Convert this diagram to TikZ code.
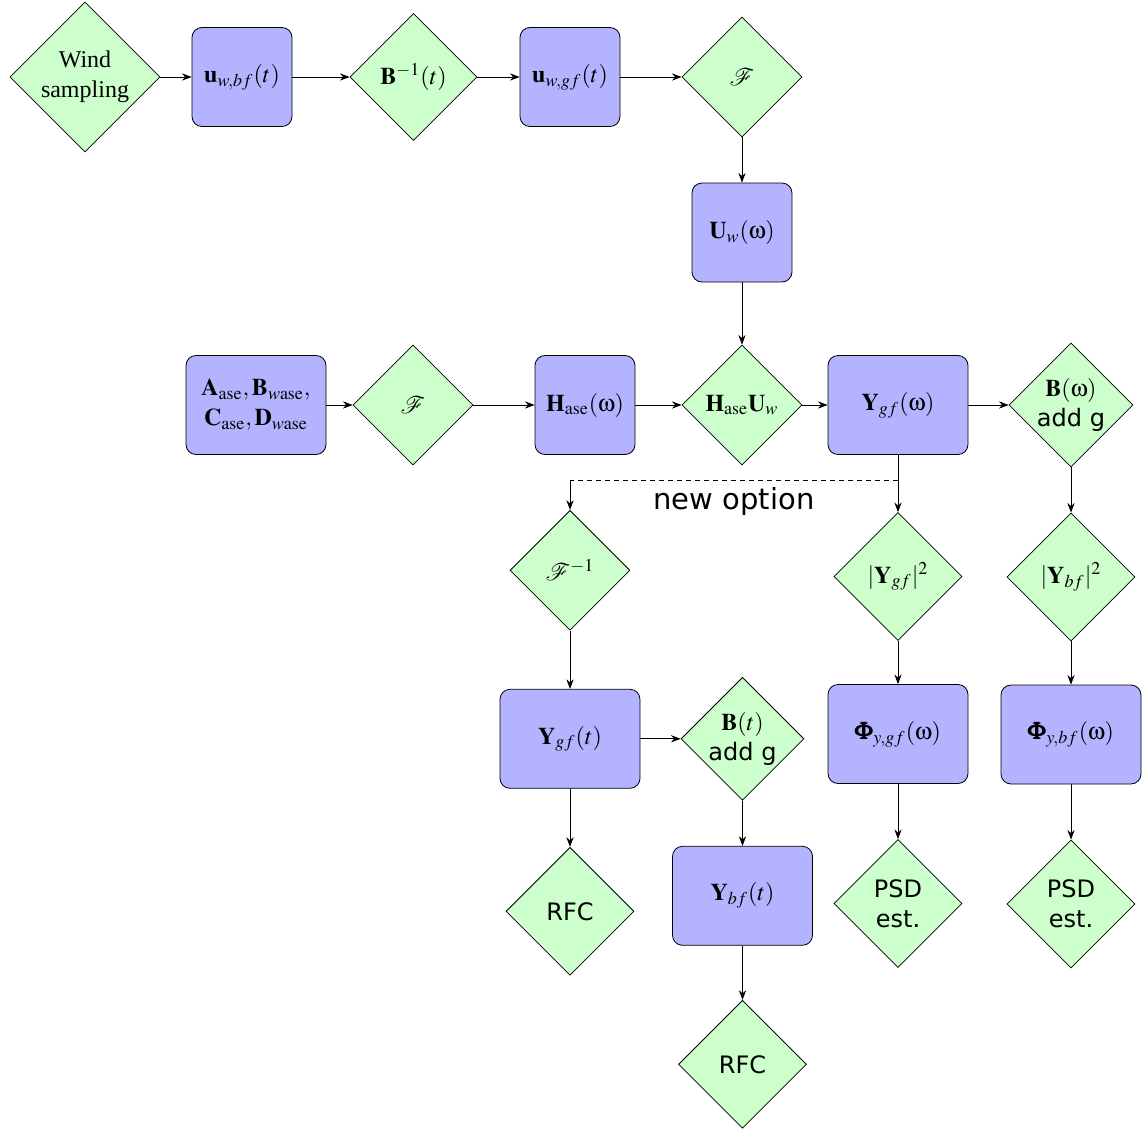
\documentclass[tikz,border=0pt]{standalone}
\usepackage{amsmath}
\usepackage{mathptmx}
\usepackage[Symbol]{upgreek}
\usepackage[no-math]{fontspec}
\setmainfont{Liberation Serif}
\newfontfamily\dejavu{DejaVu Sans}
\usetikzlibrary{arrows.meta,positioning,shapes.geometric}
\definecolor{blockFill}{RGB}{179,179,255}
\definecolor{opFill}{RGB}{204,255,204}
\tikzset{
  block/.style={rectangle, draw, fill=blockFill, rounded corners=5pt,
    minimum width=50pt, minimum height=49.5pt, align=center, inner sep=2pt,
    font=\fontsize{12}{15}\selectfont},
  wideblock/.style={block, minimum width=70pt},
  decision/.style={diamond, draw, fill=opFill, minimum size=60pt, inner sep=0pt,
    align=center, font=\fontsize{12}{15}\selectfont},
  sansText/.style={font=\dejavu\fontsize{12}{15}\selectfont},
  optLabel/.style={font=\dejavu\fontsize{14.5}{17}\selectfont},
  flow/.style={-{Stealth}},
  optFlow/.style={dash pattern=on 2.5pt off 2pt},
}
\newcommand{\addg}{{\dejavu\fontsize{12}{14}\selectfont add g}}

\begin{document}
\begin{tikzpicture}
  \useasboundingbox (-42.5pt,38.5pt) rectangle (531pt,-526.5pt);
  % time domain wind input
  \node[decision, minimum size=75pt] (wind) {Wind\\sampling};
  \node[block, right=15.6pt of wind] (ubf) {$\mathbf{u}_{w,bf}(t)$};
  \node[decision, minimum size=63.5pt, right=28.6pt of ubf] (binv) {$\mathbf{B}^{-1}(t)$};
  \node[block, right=21.1pt of binv] (ugf) {$\mathbf{u}_{w,gf}(t)$};
  \node[decision, right=30.6pt of ugf] (fourier) {$\mathcal{F}$};
  \node[block, below=22.6pt of fourier] (uw) {$\mathbf{U}_w(\upomega)$};
  % frequency response
  \node[decision, below=31.1pt of uw] (hu) {$\mathbf{H}_\mathrm{ase}\mathbf{U}_w$};
  \node[block, left=23.1pt of hu] (hase) {$\mathbf{H}_\mathrm{ase}(\upomega)$};
  \node[decision, left=30.6pt of hase] (fourierB) {$\mathcal{F}$};
  \node[wideblock, left=13.1pt of fourierB] (ssm)
    {$\mathbf{A}_\mathrm{ase},\mathbf{B}_{w\mathrm{ase}},$\\$\mathbf{C}_\mathrm{ase},\mathbf{D}_{w\mathrm{ase}}$};
  \node[wideblock, right=12.6pt of hu] (ygfw) {$\mathbf{Y}_{gf}(\upomega)$};
  \node[decision, minimum size=62pt, right=20.1pt of ygfw] (bw)
    {$\mathbf{B}(\upomega)$\\\addg};
  % spectra
  \node[decision, minimum size=64pt, below=28.6pt of ygfw] (sqgf) {$|\mathbf{Y}_{gf}|^2$};
  \node[wideblock, below=21.6pt of sqgf] (phigf) {$\pmb{\Phi}_{y,gf}(\upomega)$};
  \node[decision, minimum size=64pt, below=27.6pt of phigf, sansText] (psdA) {PSD\\est.};
  \node[decision, minimum size=64pt, below=22.6pt of bw] (sqbf) {$|\mathbf{Y}_{bf}|^2$};
  \node[wideblock, below=21.6pt of sqbf] (phibf) {$\pmb{\Phi}_{y,bf}(\upomega)$};
  \node[decision, minimum size=64pt, below=27.6pt of phibf, sansText] (psdB) {PSD\\est.};
  % new option: back to time domain
  \coordinate[below=12.5pt of ygfw] (branch);
  \coordinate (split) at (ugf |- branch);
  \node[decision, below=15pt of split] (finv) {$\mathcal{F}^{-1}$};
  \node[wideblock, below=29.1pt of finv] (ygft) {$\mathbf{Y}_{gf}(t)$};
  \node[decision, minimum size=64pt, below=29.1pt of ygft, sansText] (rfcA) {RFC};
  \node[decision, minimum size=61.5pt, right=20.1pt of ygft] (bt)
    {$\mathbf{B}(t)$\\\addg};
  \node[wideblock, below=22.6pt of bt] (ybft) {$\mathbf{Y}_{bf}(t)$};
  \node[decision, minimum size=64pt, below=27.1pt of ybft, sansText] (rfcB) {RFC};

  \draw[flow] (wind) -- (ubf);
  \draw[flow] (ubf) -- (binv);
  \draw[flow] (binv) -- (ugf);
  \draw[flow] (ugf) -- (fourier);
  \draw[flow] (fourier) -- (uw);
  \draw[flow] (uw) -- (hu);
  \draw[flow] (ssm) -- (fourierB);
  \draw[flow] (fourierB) -- (hase);
  \draw[flow] (hase) -- (hu);
  \draw[flow] (hu) -- (ygfw);
  \draw[flow] (ygfw) -- (bw);
  \draw[flow] (ygfw) -- (sqgf);
  \draw[flow] (sqgf) -- (phigf);
  \draw[flow] (phigf) -- (psdA);
  \draw[flow] (bw) -- (sqbf);
  \draw[flow] (sqbf) -- (phibf);
  \draw[flow] (phibf) -- (psdB);
  \draw[optFlow] (branch) -- node[optLabel, below] {new option} (split);
  \draw[flow] (split) -- (finv);
  \draw[flow] (finv) -- (ygft);
  \draw[flow] (ygft) -- (rfcA);
  \draw[flow] (ygft) -- (bt);
  \draw[flow] (bt) -- (ybft);
  \draw[flow] (ybft) -- (rfcB);
\end{tikzpicture}
\end{document}
